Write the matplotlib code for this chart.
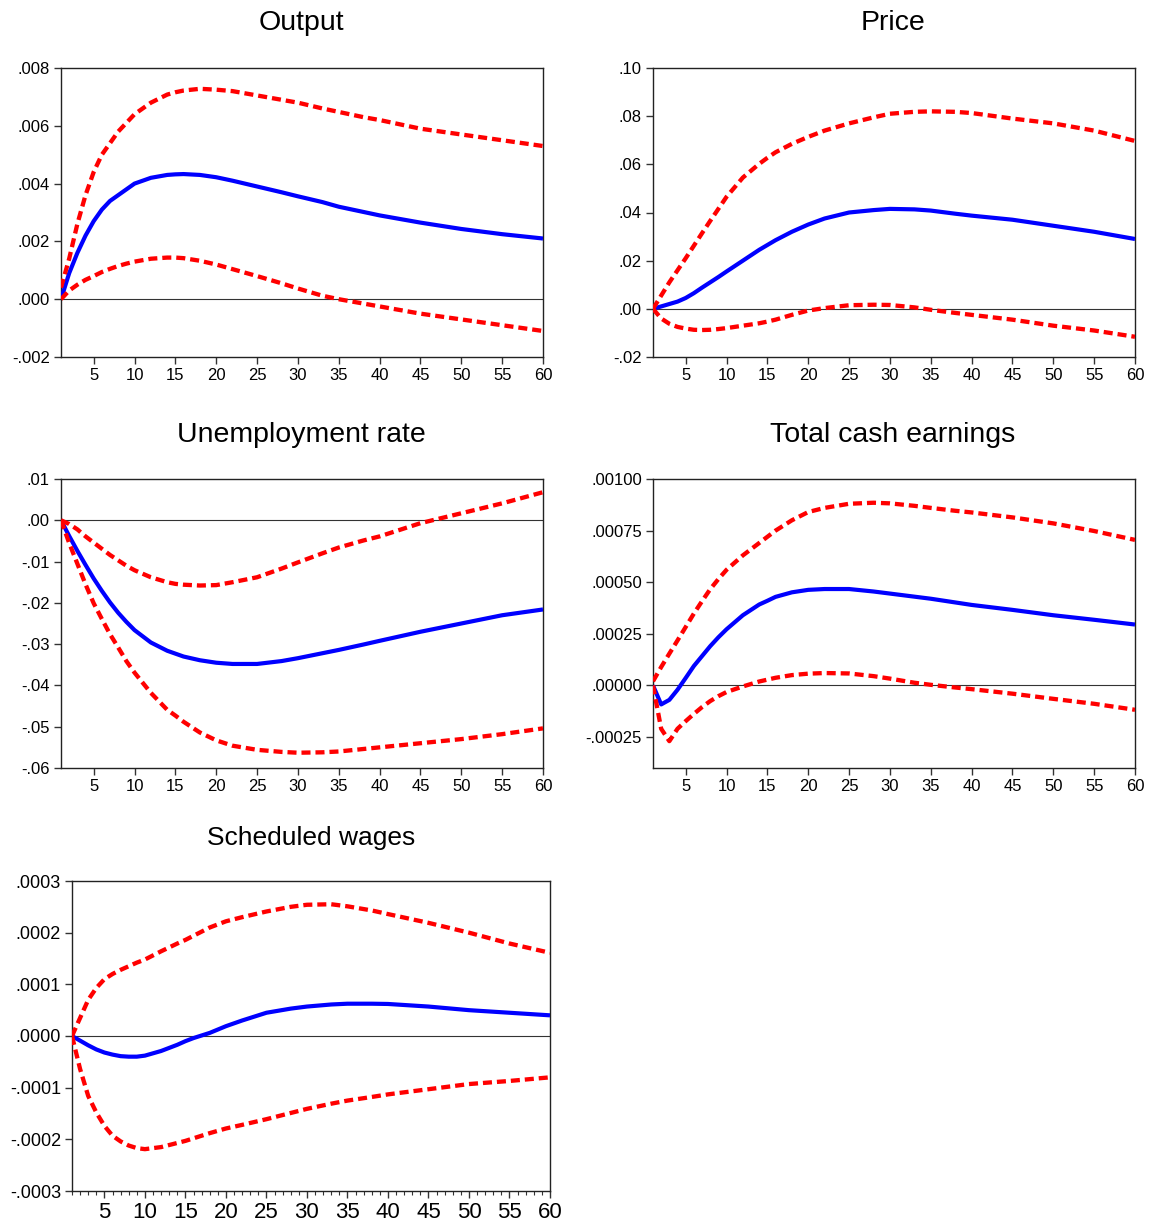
import matplotlib
matplotlib.use("Agg")
import matplotlib.pyplot as plt
from matplotlib.ticker import MultipleLocator

plt.rcParams['font.family'] = ['Liberation Sans', 'DejaVu Sans']

horizon = [1, 2, 3, 4, 5, 6, 7, 8, 9, 10, 12, 14, 15, 16, 18, 20, 22, 25, 28, 30, 33, 35, 38, 40, 45, 50, 55, 60]

# Output
output_resp = [0.0, 0.0009, 0.0016, 0.0022, 0.0027, 0.0031, 0.0034, 0.0036, 0.0038, 0.0040,
               0.0042, 0.0043, 0.00432, 0.00433, 0.0043, 0.00422, 0.0041, 0.0039, 0.0037, 0.00356,
               0.00336, 0.0032, 0.00302, 0.0029, 0.00265, 0.00243, 0.00225, 0.0021]
output_upper = [0.0004, 0.0014, 0.0026, 0.0036, 0.0044, 0.0050, 0.0054, 0.0058, 0.0061, 0.0064,
                0.0068, 0.00708, 0.00716, 0.00722, 0.00728, 0.00725, 0.0072, 0.00705, 0.0069, 0.0068,
                0.0066, 0.00648, 0.0063, 0.0062, 0.0059, 0.0057, 0.0055, 0.0053]
output_lower = [0.0, 0.0003, 0.0005, 0.00067, 0.0008, 0.00094, 0.00105, 0.00115, 0.00123, 0.0013,
                0.0014, 0.00144, 0.00144, 0.00142, 0.00133, 0.0012, 0.00104, 0.0008, 0.00055, 0.00037,
                0.00012, 0.0, -0.00015, -0.00025, -0.0005, -0.0007, -0.0009, -0.0011]

# Price
price_resp = [0.0, 0.001, 0.002, 0.003, 0.0045, 0.0065, 0.0088, 0.011, 0.0132, 0.0155,
              0.020, 0.0245, 0.0265, 0.0285, 0.032, 0.035, 0.0375, 0.040, 0.041, 0.0415,
              0.0413, 0.0408, 0.0395, 0.0387, 0.037, 0.0345, 0.032, 0.029]
price_upper = [0.0, 0.0055, 0.011, 0.016, 0.021, 0.0262, 0.0314, 0.0365, 0.0415, 0.0465,
               0.0545, 0.0602, 0.0627, 0.065, 0.0685, 0.0714, 0.074, 0.077, 0.0795, 0.081,
               0.0818, 0.082, 0.0818, 0.0813, 0.079, 0.077, 0.074, 0.0697]
price_lower = [0.0, -0.004, -0.0062, -0.0075, -0.0082, -0.0087, -0.0088, -0.0087, -0.0084, -0.008,
               -0.007, -0.006, -0.0053, -0.0045, -0.0025, -0.0007, 0.0003, 0.0015, 0.0017, 0.0016,
               0.0006, -0.0004, -0.0017, -0.0025, -0.0045, -0.007, -0.009, -0.0116]

# Unemployment rate
unemp_resp = [0.0, -0.0038, -0.0074, -0.0108, -0.0141, -0.0171, -0.0199, -0.0224, -0.0246, -0.0266,
              -0.0296, -0.0316, -0.0323, -0.033, -0.0339, -0.0345, -0.0348, -0.0348, -0.0341, -0.0334,
              -0.0322, -0.0314, -0.0301, -0.0292, -0.027, -0.025, -0.023, -0.0216]
unemp_upper = [0.0, -0.0009, -0.0022, -0.0039, -0.0054, -0.0069, -0.0084, -0.0097, -0.011, -0.0121,
               -0.0138, -0.015, -0.0154, -0.0156, -0.0158, -0.0157, -0.015, -0.0138, -0.0117, -0.0102,
               -0.008, -0.0066, -0.0049, -0.0039, -0.0007, 0.0017, 0.0041, 0.0068]
unemp_lower = [0.0, -0.0055, -0.0105, -0.0155, -0.0201, -0.0239, -0.0276, -0.0308, -0.0341, -0.0369,
               -0.0418, -0.0459, -0.0473, -0.0488, -0.0514, -0.0533, -0.0546, -0.0556, -0.0561, -0.0563,
               -0.0562, -0.056, -0.0554, -0.055, -0.054, -0.053, -0.0518, -0.0504]

# Total cash earnings
tce_resp = [0.0, -0.000092, -0.00007, -0.000021, 0.000036, 0.000094, 0.000142, 0.00019, 0.000233, 0.000272,
            0.00034, 0.000392, 0.00041, 0.000429, 0.000451, 0.000463, 0.000467, 0.000467, 0.000455, 0.000445,
            0.00043, 0.00042, 0.000402, 0.00039, 0.000366, 0.00034, 0.000318, 0.000295]
tce_upper = [0.00002, 0.000089, 0.000154, 0.000218, 0.000283, 0.000348, 0.000408, 0.000466, 0.000515, 0.00056,
             0.00063, 0.00069, 0.00072, 0.00075, 0.0008, 0.00084, 0.00086, 0.00088, 0.000885, 0.000882,
             0.00087, 0.00086, 0.000846, 0.000838, 0.000814, 0.000785, 0.000748, 0.000705]
tce_lower = [0.0, -0.00021, -0.00027, -0.00021, -0.000173, -0.000138, -0.000105, -0.000076, -0.000052, -0.000032,
             -0.000005, 0.000019, 0.000028, 0.000037, 0.00005, 0.000057, 0.00006, 0.000058, 0.000045, 0.000033,
             0.000013, 0.000003, -0.00001, -0.000018, -0.00004, -0.000065, -0.000089, -0.000118]

# Scheduled wages
sw_resp = [0.0, -0.000009, -0.000018, -0.000026, -0.000032, -0.000036, -0.000039, -0.00004, -0.00004, -0.000038,
           -0.000029, -0.000017, -0.00001, -0.000004, 0.000006, 0.000019, 0.00003, 0.000045, 0.000053, 0.000057,
           0.000061, 0.0000625, 0.0000625, 0.000062, 0.000057, 0.00005, 0.000045, 0.00004]
sw_upper = [0.0, 0.000035, 0.00007, 0.000093, 0.00011, 0.00012, 0.000128, 0.000135, 0.000142, 0.000148,
            0.000164, 0.000179, 0.000186, 0.000194, 0.00021, 0.000222, 0.00023, 0.000241, 0.00025, 0.000254,
            0.000255, 0.000251, 0.000243, 0.000236, 0.000219, 0.0002, 0.000179, 0.000161]
sw_lower = [0.0, -0.000064, -0.000116, -0.000148, -0.000174, -0.000193, -0.000204, -0.000212, -0.000217, -0.000219,
            -0.000215, -0.000207, -0.000203, -0.000198, -0.000188, -0.000179, -0.000172, -0.000161, -0.000149, -0.000141,
            -0.000131, -0.000125, -0.000118, -0.000113, -0.000103, -0.000093, -0.000087, -0.00008]

titles = ["Output", "Price", "Unemployment rate", "Total cash earnings", "Scheduled wages"]

x_ticks = [5, 10, 15, 20, 25, 30, 35, 40, 45, 50, 55, 60]
x_ticklabels = ["5", "10", "15", "20", "25", "30", "35", "40", "45", "50", "55", "60"]

y_ticks = [
    [-0.002, 0.0, 0.002, 0.004, 0.006, 0.008],
    [-0.02, 0.0, 0.02, 0.04, 0.06, 0.08, 0.10],
    [-0.06, -0.05, -0.04, -0.03, -0.02, -0.01, 0.0, 0.01],
    [-0.00025, 0.0, 0.00025, 0.0005, 0.00075, 0.001],
    [-0.0003, -0.0002, -0.0001, 0.0, 0.0001, 0.0002, 0.0003],
]
y_ticklabels = [
    ["-.002", ".000", ".002", ".004", ".006", ".008"],
    ["-.02", ".00", ".02", ".04", ".06", ".08", ".10"],
    ["-.06", "-.05", "-.04", "-.03", "-.02", "-.01", ".00", ".01"],
    ["-.00025", ".00000", ".00025", ".00050", ".00075", ".00100"],
    ["-.0003", "-.0002", "-.0001", ".0000", ".0001", ".0002", ".0003"],
]
y_limits = [(-0.002, 0.008), (-0.02, 0.10), (-0.06, 0.01), (-0.0004, 0.001), (-0.0003, 0.0003)]

series = [
    (output_resp, output_upper, output_lower),
    (price_resp, price_upper, price_lower),
    (unemp_resp, unemp_upper, unemp_lower),
    (tce_resp, tce_upper, tce_lower),
    (sw_resp, sw_upper, sw_lower),
]

W, H = 1151, 1230
fig = plt.figure(figsize=(W / 100, H / 100), dpi=100)

# axes boxes in pixels: left, top, right, bottom
boxes = [
    (61, 68, 543, 357),
    (653, 68, 1135, 357),
    (61, 479, 543, 768),
    (653, 479, 1135, 768),
    (72, 881, 550, 1191),
]
title_pos = [(301, 23), (893, 23), (301, 435), (893, 435), (311, 838)]

for i in range(5):
    l, t, r, b = boxes[i]
    ax = fig.add_axes([l / W, 1 - b / H, (r - l) / W, (b - t) / H])
    resp, up, lo = series[i]
    ax.axhline(0, color="#333333", lw=0.8, zorder=1)
    ax.plot(horizon, resp, color="#0000FF", lw=3.0, zorder=3,
            solid_capstyle="butt", solid_joinstyle="round")
    for band in (up, lo):
        ln, = ax.plot(horizon, band, color="#FF0000", lw=3.1, zorder=4, dash_capstyle="butt")
        ln.set_dashes([2.1, 1.15])
    ax.set_xlim(1, 60)
    ax.set_ylim(*y_limits[i])
    ax.set_xticks(x_ticks)
    ax.set_yticks(y_ticks[i])
    ax.set_yticklabels(y_ticklabels[i])
    last = (i == 4)
    ax.set_xticklabels(x_ticklabels, fontsize=16 if last else 12)
    ax.tick_params(axis="y", labelsize=13 if last else 12)
    ax.tick_params(axis="both", direction="out", length=5, width=1, color="#333333",
                   top=False, right=False, pad=3)
    if last:
        ax.xaxis.set_minor_locator(MultipleLocator(1))
        ax.tick_params(axis="x", which="minor", direction="out", length=3, width=0.8, color="#333333")
    for sp in ax.spines.values():
        sp.set_linewidth(1.0)
        sp.set_color("#222222")
    tx, ty = title_pos[i]
    fig.text(tx / W, 1 - ty / H, titles[i], ha="center", va="center",
             fontsize=19 if last else 20.5)

fig.savefig("out.png", dpi=100, facecolor="white")
